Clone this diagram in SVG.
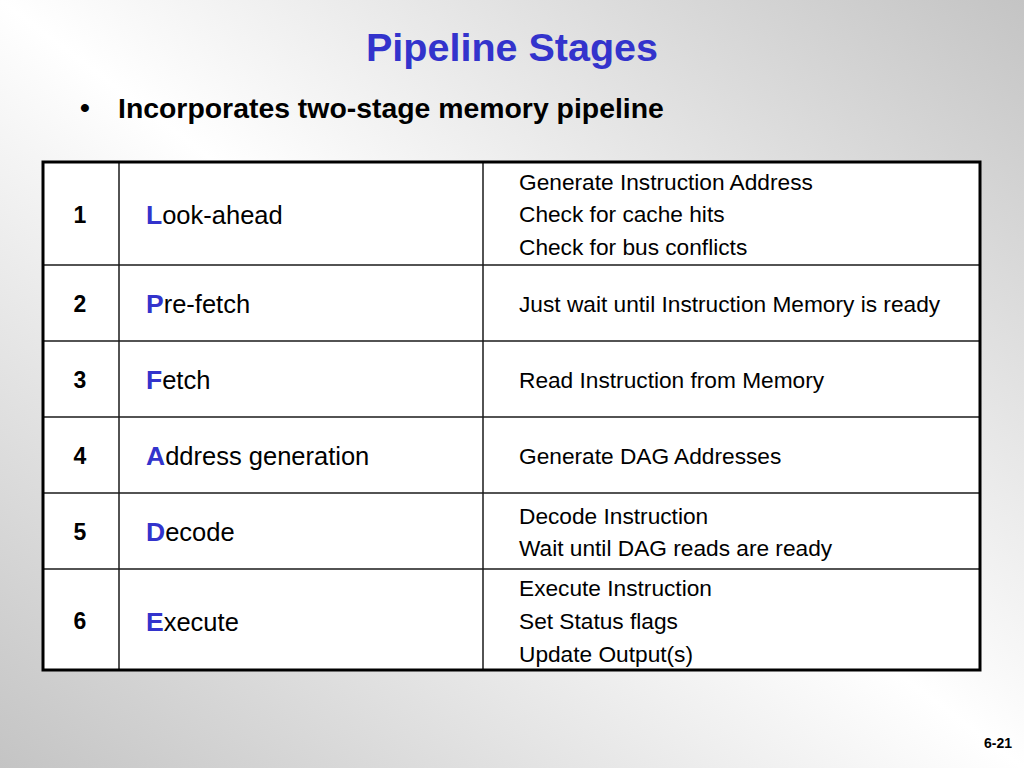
<svg xmlns="http://www.w3.org/2000/svg" width="1024" height="768" viewBox="0 0 1024 768">
<defs>
<linearGradient id="bg" x1="1" y1="0" x2="0" y2="1">
<stop offset="0" stop-color="#c4c4c4"/>
<stop offset="0.5" stop-color="#ffffff"/>
<stop offset="1" stop-color="#c4c4c4"/>
</linearGradient>
<style>
.t{font-family:"Liberation Sans",Arial,sans-serif;}
.num{font-family:"Liberation Sans",Arial,sans-serif;font-weight:bold;font-size:23px;text-anchor:middle;fill:#000;}
.name{font-family:"Liberation Sans",Arial,sans-serif;font-size:25.5px;fill:#000;}
.ini{font-weight:bold;fill:#3333cc;font-size:26.5px;}
.desc{font-family:"Liberation Sans",Arial,sans-serif;font-size:22.7px;fill:#000;}
.grid{stroke:#1a1a1a;stroke-width:1.5;fill:none;}
</style>
</defs>
<rect x="0" y="0" width="1024" height="768" fill="url(#bg)"/>
<text class="t" x="512" y="61" font-size="39.5" font-weight="bold" fill="#3333cc" text-anchor="middle">Pipeline Stages</text>
<text class="t" x="80" y="117" font-size="28" font-weight="bold" fill="#000">•</text>
<text class="t" x="118" y="118" font-size="28.4" font-weight="bold" fill="#000">Incorporates two-stage memory pipeline</text>
<g id="table">
<rect x="43" y="162" width="937" height="508" fill="#ffffff"/>
<g class="grid">
<line x1="119" y1="162" x2="119" y2="670"/>
<line x1="483" y1="162" x2="483" y2="670"/>
<line x1="43" y1="265" x2="980" y2="265"/>
<line x1="43" y1="341" x2="980" y2="341"/>
<line x1="43" y1="417" x2="980" y2="417"/>
<line x1="43" y1="493" x2="980" y2="493"/>
<line x1="43" y1="569" x2="980" y2="569"/>
</g>
<rect x="43" y="162" width="937" height="508" fill="none" stroke="#000" stroke-width="3"/>
</g>
<g id="row1">
<text class="num" x="80" y="223">1</text>
<text class="name" x="146" y="224"><tspan class="ini">L</tspan>ook-ahead</text>
<text class="desc" x="519" y="190">Generate Instruction Address</text>
<text class="desc" x="519" y="222">Check for cache hits</text>
<text class="desc" x="519" y="255">Check for bus conflicts</text>
</g>
<g id="row2">
<text class="num" x="80" y="312">2</text>
<text class="name" x="146" y="313"><tspan class="ini">P</tspan>re-fetch</text>
<text class="desc" x="519" y="312">Just wait until Instruction Memory is ready</text>
</g>
<g id="row3">
<text class="num" x="80" y="388">3</text>
<text class="name" x="146" y="389"><tspan class="ini">F</tspan>etch</text>
<text class="desc" x="519" y="388">Read Instruction from Memory</text>
</g>
<g id="row4">
<text class="num" x="80" y="464">4</text>
<text class="name" x="146" y="465"><tspan class="ini">A</tspan>ddress generation</text>
<text class="desc" x="519" y="464">Generate DAG Addresses</text>
</g>
<g id="row5">
<text class="num" x="80" y="540">5</text>
<text class="name" x="146" y="541"><tspan class="ini">D</tspan>ecode</text>
<text class="desc" x="519" y="524">Decode Instruction</text>
<text class="desc" x="519" y="556">Wait until DAG reads are ready</text>
</g>
<g id="row6">
<text class="num" x="80" y="629">6</text>
<text class="name" x="146" y="631"><tspan class="ini">E</tspan>xecute</text>
<text class="desc" x="519" y="596">Execute Instruction</text>
<text class="desc" x="519" y="629">Set Status flags</text>
<text class="desc" x="519" y="662">Update Output(s)</text>
</g>
<text class="t" x="1012" y="748" font-size="14" font-weight="bold" fill="#000" text-anchor="end">6-21</text>
</svg>
